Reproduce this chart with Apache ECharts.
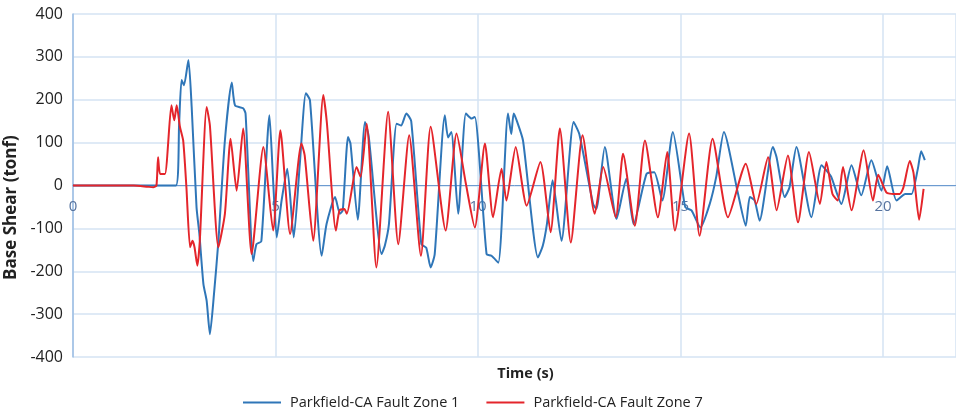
<!DOCTYPE html>
<html>
<head>
<meta charset="utf-8">
<script src="https://cdn.jsdelivr.net/npm/echarts@6/dist/echarts.min.js"></script>
<style>
html,body{margin:0;padding:0;background:#fff;}
#chart{width:956px;height:419px;}
</style>
</head>
<body>
<div id="chart"></div>
<script>
// Time (s) and base shear (tonf) pairs
const zone1Data = [
  [0,0],[2.54,0],[2.62,144],[2.68,246],[2.74,234],[2.85,293],[2.93,183],[3.05,-51],[3.12,-113],[3.22,-230],
  [3.30,-269],[3.38,-347],[3.48,-254],[3.59,-129],[3.75,105],[3.92,240],[4.00,187],[4.20,180],[4.26,168],[4.45,-176],
  [4.53,-137],[4.65,-130],[4.85,164],[4.94,12],[5.03,-121],[5.15,-35],[5.29,39],[5.45,-121],[5.60,51],[5.75,215],
  [5.85,199],[6.14,-164],[6.26,-90],[6.47,-27],[6.59,-66],[6.66,-58],[6.79,113],[6.85,98],[7.03,-80],[7.21,148],
  [7.30,115],[7.62,-160],[7.70,-140],[7.80,-90],[7.99,144],[8.10,140],[8.23,168],[8.35,150],[8.60,-137],[8.72,-145],
  [8.83,-191],[8.93,-160],[9.18,164],[9.26,112],[9.34,125],[9.51,-66],[9.70,168],[9.84,156],[9.92,160],[10.21,-160],
  [10.33,-164],[10.50,-180],[10.74,168],[10.82,120],[10.88,168],[10.96,150],[11.11,105],[11.48,-168],[11.60,-140],[11.70,-90],
  [11.84,12],[12.06,-129],[12.36,148],[12.50,120],[12.84,-43],[12.92,-55],[13.13,90],[13.42,-78],[13.66,16],[13.84,-90],
  [14.16,27],[14.35,31],[14.55,-35],[14.81,125],[15.06,-20],[15.12,-51],[15.27,-58],[15.49,-98],[15.72,-43],[15.88,20],
  [16.07,125],[16.42,-20],[16.61,-94],[16.71,-27],[16.83,-35],[16.95,-82],[17.28,90],[17.37,66],[17.57,-27],[17.69,-4],
  [17.86,90],[18.23,-74],[18.48,47],[18.60,35],[18.72,20],[18.97,-43],[19.22,47],[19.46,-23],[19.71,59],[19.96,-12],
  [20.10,45],[20.33,-35],[20.55,-20],[20.70,-20],[20.86,40],[20.94,80],[21.03,59]
];
const zone7Data = [
  [0,0],[1.5,0],[1.85,-3],[1.98,-4],[2.06,0],[2.10,66],[2.15,27],[2.27,27],[2.43,187],[2.50,152],
  [2.56,187],[2.64,137],[2.72,105],[2.80,-4],[2.89,-144],[2.95,-129],[3.00,-144],[3.07,-187],[3.13,-130],[3.30,183],
  [3.38,140],[3.59,-144],[3.75,-66],[3.89,109],[4.04,-12],[4.20,133],[4.41,-160],[4.70,90],[4.94,-105],[5.12,129],
  [5.36,-113],[5.64,98],[5.72,70],[5.93,-129],[6.18,211],[6.27,144],[6.49,-105],[6.58,-58],[6.70,-55],[6.76,-66],
  [7.00,43],[7.10,20],[7.25,144],[7.49,-191],[7.78,172],[8.03,-137],[8.30,117],[8.59,-164],[8.83,137],[9.20,-105],
  [9.47,121],[9.70,4],[9.92,-98],[10.17,98],[10.37,-74],[10.58,39],[10.70,-35],[10.93,90],[11.20,-47],[11.54,55],
  [11.79,-109],[12.02,133],[12.29,-133],[12.58,117],[12.88,-66],[13.09,43],[13.40,-74],[13.58,74],[13.87,-94],[14.12,105],
  [14.44,-74],[14.67,78],[14.86,-105],[15.21,121],[15.47,-117],[15.79,109],[16.17,-74],[16.61,51],[16.87,-43],[17.16,66],
  [17.37,-58],[17.65,70],[17.90,-86],[18.17,78],[18.44,-43],[18.60,55],[18.75,-20],[18.88,-35],[19.01,43],[19.22,-58],
  [19.52,82],[19.75,-35],[19.88,25],[20.08,-16],[20.25,-20],[20.41,-20],[20.50,-5],[20.66,57],[20.75,30],[20.89,-80],
  [21.00,-8]
];
const seriesNames = ['Parkfield-CA Fault Zone 1', 'Parkfield-CA Fault Zone 7'];
const xAxisTitle = 'Time (s)';
const yAxisTitle = 'Base Shear (tonf)';
const xRange = [0, 21.8];
const yRange = [-400, 400];

const chart = echarts.init(document.getElementById('chart'), null, {renderer: 'canvas'});
const FONT = '"Open Sans", "Liberation Sans", sans-serif';
chart.setOption({
  animation: false,
  backgroundColor: '#ffffff',
  grid: {left: 73, right: 0, top: 14, bottom: 62, containLabel: false, outerBoundsMode: 'none'},
  legend: {
    data: seriesNames,
    left: 238, top: 390,
    icon: 'rect', itemWidth: 38, itemHeight: 2, itemGap: 27,
    textStyle: {fontFamily: FONT, fontSize: 14.5, color: '#222', padding: [0,0,0,4]}
  },
  xAxis: {
    type: 'value', min: xRange[0], max: xRange[1], interval: 5,
    name: xAxisTitle, nameLocation: 'middle', nameGap: 9,
    nameTextStyle: {fontFamily: FONT, fontSize: 14.5, fontWeight: 'bold', color: '#222', padding: [0,0,0,22]},
    axisLine: {onZero: true, lineStyle: {color: '#6d9bd0', width: 1}},
    axisTick: {show: false},
    axisLabel: {fontFamily: FONT, fontSize: 15, color: '#56739f', margin: -158, showMaxLabel: false},
    splitLine: {show: true, lineStyle: {color: '#d5e3f3', width: 1.5}}
  },
  yAxis: {
    type: 'value', min: yRange[0], max: yRange[1], interval: 100,
    name: yAxisTitle, nameLocation: 'middle', nameGap: 50, nameRotate: 90,
    nameTextStyle: {fontFamily: FONT, fontSize: 17, fontWeight: 'bold', color: '#222', padding: [0,44,0,0]},
    axisLine: {show: true, lineStyle: {color: '#9bbde3', width: 1.5}},
    axisTick: {show: false},
    axisLabel: {fontFamily: FONT, fontSize: 16, color: '#222', margin: 10},
    splitLine: {show: true, lineStyle: {color: '#d5e3f3', width: 1.5}}
  },
  series: [
    {name: seriesNames[0], type: 'line', data: zone1Data, showSymbol: false, smooth: 0.2,
     lineStyle: {color: '#2f76b8', width: 2}, itemStyle: {color: '#2f76b8'}},
    {name: seriesNames[1], type: 'line', data: zone7Data, showSymbol: false, smooth: 0.2,
     lineStyle: {color: '#e4252b', width: 2}, itemStyle: {color: '#e4252b'}}
  ]
});
</script>
</body>
</html>
